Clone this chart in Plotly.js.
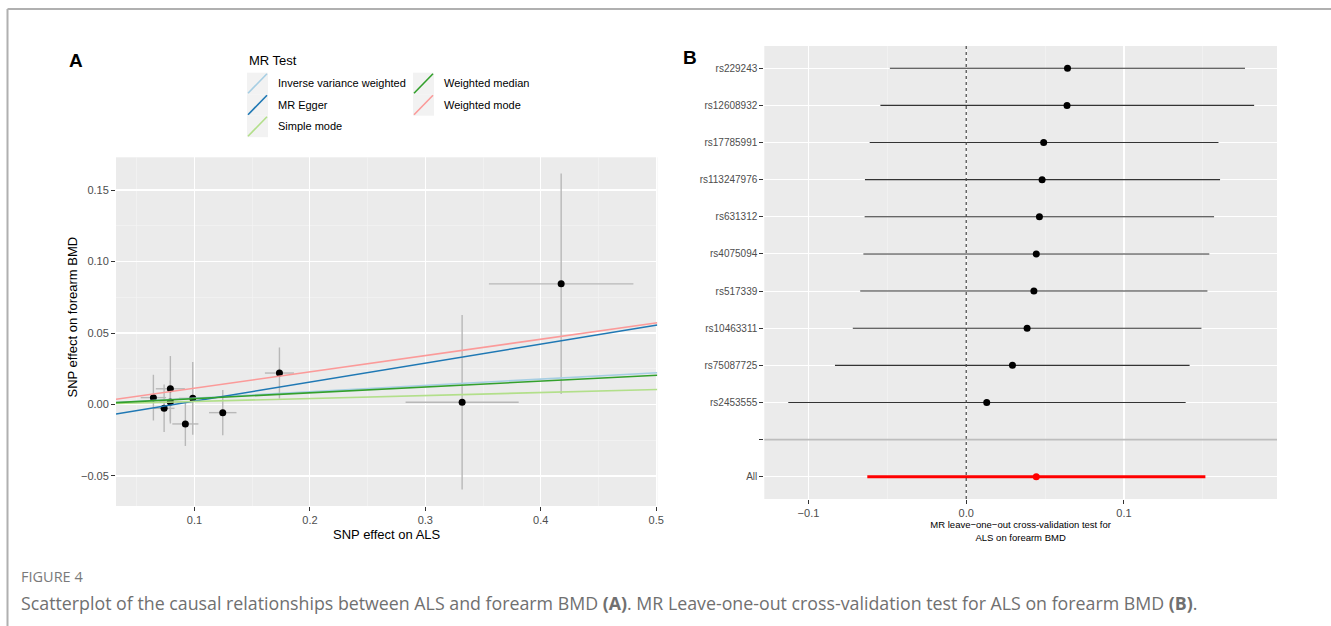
<!DOCTYPE html>
<html><head><meta charset="utf-8">
<script src="https://cdn.plot.ly/plotly-3.0.1.min.js"></script>
<style>html,body{margin:0;padding:0;background:#fff}#chart{width:1331px;height:626px}</style>
</head><body><div id="chart"></div>
<script>
// ---------- Panel A data ----------
const snpEffectALS = [0.0644, 0.0737, 0.0791, 0.0791, 0.0921, 0.0985, 0.1245, 0.1736, 0.3319, 0.4177];
const seALS        = [0.0110, 0.0090, 0.0126, 0.0100, 0.0113, 0.0120, 0.0119, 0.0126, 0.0490, 0.0626];
const snpEffectBMD = [0.0048, -0.0027, 0.0110, 0.0017, -0.0136, 0.0043, -0.0057, 0.0220, 0.0016, 0.0844];
const seBMD        = [0.0160, 0.0166, 0.0229, 0.0150, 0.0154, 0.0254, 0.0158, 0.0179, 0.0610, 0.0771];
const methods = ['Inverse variance weighted', 'MR Egger', 'Simple mode', 'Weighted median', 'Weighted mode'];
const methodColors = ['#a6cee3', '#1f78b4', '#b2df8a', '#33a02c', '#fb9a99'];
const methodSlopes = [0.0444, 0.1328, 0.0209, 0.0408, 0.1141];
const methodIntercepts = [0, -0.0109, 0, 0, 0];
const xTicksA = [0.1, 0.2, 0.3, 0.4, 0.5];
const yTicksA = [-0.05, 0.00, 0.05, 0.10, 0.15];

// ---------- Panel B data (top to bottom) ----------
const looLabels   = ['rs229243', 'rs12608932', 'rs17785991', 'rs113247976', 'rs631312', 'rs4075094', 'rs517339', 'rs10463311', 'rs75087725', 'rs2453555', '', 'All'];
const looEstimate = [0.0642, 0.0639, 0.0491, 0.0481, 0.0464, 0.0444, 0.0429, 0.0386, 0.0293, 0.0130, null, 0.0444];
const looLower    = [-0.0484, -0.0544, -0.0612, -0.0642, -0.0644, -0.0652, -0.0672, -0.0719, -0.0832, -0.1128, null, -0.0627];
const looUpper    = [0.1767, 0.1825, 0.1599, 0.1609, 0.1571, 0.1541, 0.1529, 0.1491, 0.1416, 0.1391, null, 0.1516];
const xTicksB = [-0.1, 0.0, 0.1];

// ---------- helpers ----------
const W = 1331, H = 626;
const px = v => v / W;
const py = v => 1 - v / H;
const FONT = 'Liberation Sans, Arial, sans-serif';
const CAPFONT = 'Open Sans, sans-serif';

const xRangeA = [0.032, 0.501];
const yRangeA = [-0.071, 0.1729];
const xRangeB = [-0.128, 0.197];

const traces = [];
// Panel A points with error bars
traces.push({
  type: 'scatter', mode: 'markers', xaxis: 'x', yaxis: 'y',
  x: snpEffectALS, y: snpEffectBMD,
  marker: {color: '#000', size: 7},
  error_x: {type: 'data', array: seALS, visible: true, width: 0, thickness: 1.4, color: '#b8b8b8'},
  error_y: {type: 'data', array: seBMD, visible: true, width: 0, thickness: 1.4, color: '#b8b8b8'},
  showlegend: false, hoverinfo: 'x+y'
});
// Regression lines
methods.forEach((m, i) => {
  traces.push({
    type: 'scatter', mode: 'lines', xaxis: 'x', yaxis: 'y', name: m,
    x: xRangeA.slice(),
    y: xRangeA.map(v => methodIntercepts[i] + methodSlopes[i] * v),
    line: {color: methodColors[i], width: 1.6},
    showlegend: false
  });
});

// Panel B
const n = looLabels.length;
const pos = looLabels.map((_, i) => n - 1 - i);
const snpIdx = looLabels.map((l, i) => i).filter(i => looLabels[i] !== '' && looLabels[i] !== 'All');
const allIdx = looLabels.indexOf('All');
const blankIdx = looLabels.indexOf('');
traces.push({
  type: 'scatter', mode: 'markers', xaxis: 'x2', yaxis: 'y2',
  x: snpIdx.map(i => looEstimate[i]), y: snpIdx.map(i => pos[i]),
  marker: {color: '#000', size: 7},
  error_x: {type: 'data', symmetric: false, visible: true,
            array: snpIdx.map(i => looUpper[i] - looEstimate[i]),
            arrayminus: snpIdx.map(i => looEstimate[i] - looLower[i]),
            width: 0, thickness: 1.1, color: '#333'},
  showlegend: false
});
traces.push({
  type: 'scatter', mode: 'markers', xaxis: 'x2', yaxis: 'y2',
  x: [looEstimate[allIdx]], y: [pos[allIdx]],
  marker: {color: '#ff0000', size: 7},
  error_x: {type: 'data', symmetric: false, visible: true,
            array: [looUpper[allIdx] - looEstimate[allIdx]],
            arrayminus: [looEstimate[allIdx] - looLower[allIdx]],
            width: 0, thickness: 3, color: '#ff0000'},
  showlegend: false
});

const axisBase = {
  showline: false, zeroline: false, ticks: 'outside', ticklen: 4, tickwidth: 1, tickcolor: '#333',
  gridcolor: '#ffffff', gridwidth: 1.1,
  tickfont: {family: FONT, size: 11, color: '#4d4d4d'}, fixedrange: true
};

const shapes = [];
const annotations = [];
// Figure frame (top and left)
shapes.push({type: 'line', xref: 'paper', yref: 'paper', x0: px(7.5), x1: 1, y0: py(9), y1: py(9), line: {color: '#b0b0b0', width: 2}});
shapes.push({type: 'line', xref: 'paper', yref: 'paper', x0: px(7.5), x1: px(7.5), y0: py(9), y1: 0, line: {color: '#b0b0b0', width: 2}});
// Zero line B
shapes.push({type: 'line', xref: 'x2', yref: 'y2 domain', x0: 0, x1: 0, y0: 0, y1: 1, line: {color: '#444', width: 1.2, dash: 'dot'}});
// separator B
shapes.push({type: 'line', xref: 'x2 domain', yref: 'y2', x0: 0, x1: 1, y0: pos[blankIdx], y1: pos[blankIdx], line: {color: '#bdbdbd', width: 1.6}});

// Custom legend for panel A
const legKeyW = 21, legKeyH = 21.5;
const legCols = [{kx: 247, tx: 276}, {kx: 413, tx: 442}];
const legTop = 72.7;
annotations.push({xref: 'paper', yref: 'paper', x: px(247), y: py(61), xanchor: 'left', yanchor: 'middle',
  text: 'MR Test', showarrow: false, font: {family: FONT, size: 13, color: '#000'}});
methods.forEach((m, i) => {
  const col = i < 3 ? 0 : 1;
  const row = i < 3 ? i : i - 3;
  const kx = legCols[col].kx, ky = legTop + row * legKeyH;
  shapes.push({type: 'rect', xref: 'paper', yref: 'paper', x0: px(kx), x1: px(kx + legKeyW), y0: py(ky + legKeyH), y1: py(ky),
    fillcolor: '#f2f2f2', line: {width: 0}});
  shapes.push({type: 'line', xref: 'paper', yref: 'paper', x0: px(kx + 1), x1: px(kx + legKeyW - 1), y0: py(ky + legKeyH - 1), y1: py(ky + 1),
    line: {color: methodColors[i], width: 1.6}});
  annotations.push({xref: 'paper', yref: 'paper', x: px(legCols[col].tx), y: py(ky + legKeyH / 2), xanchor: 'left', yanchor: 'middle',
    text: m, showarrow: false, font: {family: FONT, size: 11, color: '#000'}});
});

// Y title of panel A
annotations.push({xref: 'paper', yref: 'paper', x: px(71.5), y: py(317), xanchor: 'center', yanchor: 'middle', textangle: -90,
  text: 'SNP effect on forearm BMD', showarrow: false, font: {family: FONT, size: 13, color: '#000'}});

// Panel labels
annotations.push({xref: 'paper', yref: 'paper', x: px(76), y: py(60), xanchor: 'center', yanchor: 'middle', text: '<b>A</b>', showarrow: false, font: {family: FONT, size: 19, color: '#000'}});
annotations.push({xref: 'paper', yref: 'paper', x: px(690), y: py(57), xanchor: 'center', yanchor: 'middle', text: '<b>B</b>', showarrow: false, font: {family: FONT, size: 19, color: '#000'}});

// Caption
annotations.push({xref: 'paper', yref: 'paper', x: px(19), y: py(576), xanchor: 'left', yanchor: 'middle', text: 'FIGURE 4', showarrow: false, font: {family: CAPFONT, size: 14.5, color: '#7a7a7a'}});
annotations.push({xref: 'paper', yref: 'paper', x: px(19), y: py(603), xanchor: 'left', yanchor: 'middle',
  text: 'Scatterplot of the causal relationships between ALS and forearm BMD <b>(A)</b>. MR Leave-one-out cross-validation test for ALS on forearm BMD <b>(B)</b>.',
  showarrow: false, font: {family: CAPFONT, size: 17.8, color: '#707070'}});

const layout = {
  width: W, height: H, margin: {l: 0, r: 0, t: 0, b: 0},
  paper_bgcolor: '#ffffff', plot_bgcolor: '#ebebeb', showlegend: false,
  font: {family: FONT},
  xaxis: Object.assign({}, axisBase, {
    domain: [px(116), px(657.3)], range: xRangeA, tickvals: xTicksA, tickformat: '.1f',
    minor: {dtick: 0.05, tick0: 0, showgrid: true, gridcolor: '#f5f5f5', gridwidth: 0.6, ticks: ''},
    title: {text: 'SNP effect on ALS', font: {family: FONT, size: 13, color: '#000'}, standoff: 4},
    anchor: 'y'
  }),
  yaxis: Object.assign({}, axisBase, {
    domain: [py(506), py(157.3)], range: yRangeA, tickvals: yTicksA, tickformat: '.2f',
    minor: {dtick: 0.025, tick0: 0, showgrid: true, gridcolor: '#f5f5f5', gridwidth: 0.6, ticks: ''},
    anchor: 'x'
  }),
  xaxis2: Object.assign({}, axisBase, {
    domain: [px(764.3), px(1277)], range: xRangeB, tickvals: xTicksB, tickformat: '.1f',
    minor: {dtick: 0.05, tick0: 0, showgrid: true, gridcolor: '#f5f5f5', gridwidth: 0.6, ticks: ''},
    title: {text: 'MR leave\u2212one\u2212out cross-validation test for<br>ALS on forearm BMD', font: {family: FONT, size: 9.5, color: '#000'}, standoff: 3},
    anchor: 'y2'
  }),
  yaxis2: Object.assign({}, axisBase, {
    domain: [py(499), py(46)], range: [-0.6, n - 0.4], tickvals: pos, ticktext: looLabels,
    tickfont: {family: FONT, size: 10, color: '#4d4d4d'},
    anchor: 'x2'
  }),
  shapes: shapes, annotations: annotations
};

Plotly.newPlot('chart', traces, layout, {displayModeBar: false, staticPlot: true});
</script>
</body></html>
